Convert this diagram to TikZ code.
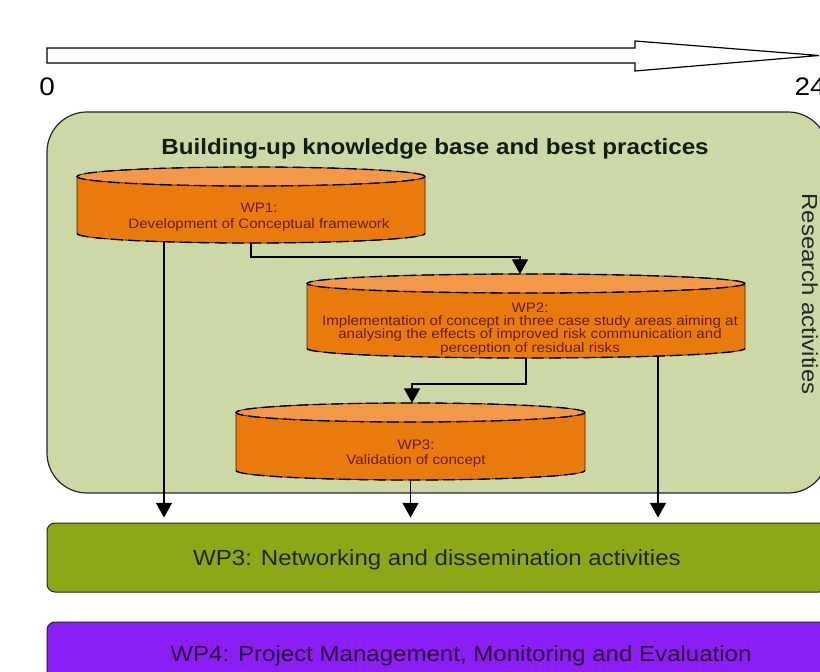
\documentclass[tikz,border=0pt]{standalone}
\usepackage{fontspec}
\setmainfont[FakeStretch=1.1]{Liberation Sans}
\usepackage{xcolor}
\usetikzlibrary{arrows.meta,calc}

\definecolor{resgreen}{RGB}{204,217,166}
\definecolor{wporange}{RGB}{232,122,14}
\definecolor{wptop}{RGB}{242,152,72}
\definecolor{wpline}{RGB}{60,30,10}
\definecolor{wpink}{RGB}{105,30,15}
\definecolor{netgreen}{RGB}{139,168,22}
\definecolor{netink}{RGB}{30,40,10}
\definecolor{mgmtpurple}{RGB}{139,30,245}
\definecolor{mgmtink}{RGB}{45,10,60}
\definecolor{titleink}{RGB}{15,30,15}

% cylinder of a work package: #1 node, #2 x radius
\newcommand{\wpcyl}[2]{%
  \filldraw[wpline, fill=wporange, line width=0.6pt] ($(#1.north west)+(0,-9.5)$) -- ($(#1.south west)+(0,9.5)$)
    arc[start angle=180, end angle=360, x radius=#2, y radius=9.5] -- ($(#1.north east)+(0,-9.5)$) -- cycle;
  \filldraw[wpline, fill=wptop, line width=0.6pt] ($(#1.north)+(0,-9.5)$) ellipse [x radius=#2, y radius=9.5];
  \draw[black, line width=1pt, dash pattern=on 9pt off 4pt] ($(#1.north)+(0,-9.5)$) ellipse [x radius=#2, y radius=9.5];
  \draw[black, line width=1pt, dash pattern=on 9pt off 4pt] ($(#1.south west)+(0,9.5)$)
    arc[start angle=180, end angle=360, x radius=#2, y radius=9.5];
}

\begin{document}
\begin{tikzpicture}[x=0.75pt, y=0.75pt,
    cylbox/.style={inner sep=0pt, outer sep=0pt},
    wptext/.style={align=center, text=wpink, inner sep=0pt, font=\fontsize{10.3}{#1}\selectfont},
    band/.style={draw=black!85, line width=0.75pt, rounded corners=6pt, minimum height=51.75pt,
        inner sep=0pt, text depth=0pt, font=\fontsize{16.4}{18}\selectfont},
    flow/.style={-{Triangle[width=12pt, length=11pt]}, line width=0.9pt}]
    \useasboundingbox (0,0) rectangle (820,671);
    \clip (0,0) rectangle (820,671);

    % time line
    \draw [line width=0.9pt, fill=white] (47,608) -- (635,608) -- (635,600) -- (819,615.5)
        -- (635,630) -- (635,623) -- (47,623) -- cycle;
    \node [anchor=base, font=\fontsize{19}{22}\selectfont] (t0) at (47,575) {0};
    \node [anchor=base west, font=\fontsize{19}{22}\selectfont] (t24) at (790,575) {24};

    % research block
    \draw [draw=black!85, line width=0.9pt, fill=resgreen, rounded corners=30pt] (47,178) rectangle (828,559);
    \node [anchor=base, text=titleink, font=\bfseries\fontsize{16.5}{19}\selectfont] (title) at (435,516)
        {Building-up knowledge base and best practices};
    \node [rotate=-90, text=black!85, font=\fontsize{16.3}{19}\selectfont] (resact) at (810,377) {Research activities};

    \node [cylbox, minimum width=261pt, minimum height=57pt] (wp1) at (251,466) {};
    \node [cylbox, minimum width=328.5pt, minimum height=63pt] (wp2) at (526,355) {};
    \node [cylbox, minimum width=261.75pt, minimum height=57.75pt] (wp3) at (410.5,229.5) {};
    \wpcyl{wp1}{174}
    \wpcyl{wp2}{219}
    \wpcyl{wp3}{174.5}
    \node [wptext=11.7pt] (wp1 text) at (259,453.8) {WP1:\\Development of Conceptual framework};
    \node [wptext=10pt] (wp2 text) at (530,342.1) {WP2:\\Implementation of concept in three case study areas aiming at\\
        analysing the effects of improved risk communication and\\perception of residual risks};
    \node [wptext=11pt] (wp3 text) at (416,217.6) {WP3:\\Validation of concept};

    % bands
    \node [band, fill=netgreen, text=netink, minimum width=585pt] (net) at (437,113.5)
        {WP3: Networking and dissemination activities};
    \node [band, fill=mgmtpurple, text=mgmtink, minimum width=621pt, minimum height=48pt] (mgmt) at (461,17)
        {WP4: Project Management, Monitoring and Evaluation};

    % connectors
    \draw [flow] (wp1.south) -- ++(0,-14) -| ($(wp2.north)+(-6,0)$);
    \draw [flow] (wp2.south) -- ++(0,-26) -| ($(wp3.north)+(1.5,0)$);
    \coordinate (d1) at ($(wp1.south)+(-87,1.3)$);
    \coordinate (d3) at ($(wp2.south)+(132,1.5)$);
    \draw [flow, shorten >=3.75pt] (d1) -- (d1 |- net.north);
    \draw [flow, shorten >=3.75pt] (wp3.south) -- (wp3.south |- net.north);
    \draw [flow, shorten >=3.75pt] (d3) -- (d3 |- net.north);
\end{tikzpicture}
\end{document}
